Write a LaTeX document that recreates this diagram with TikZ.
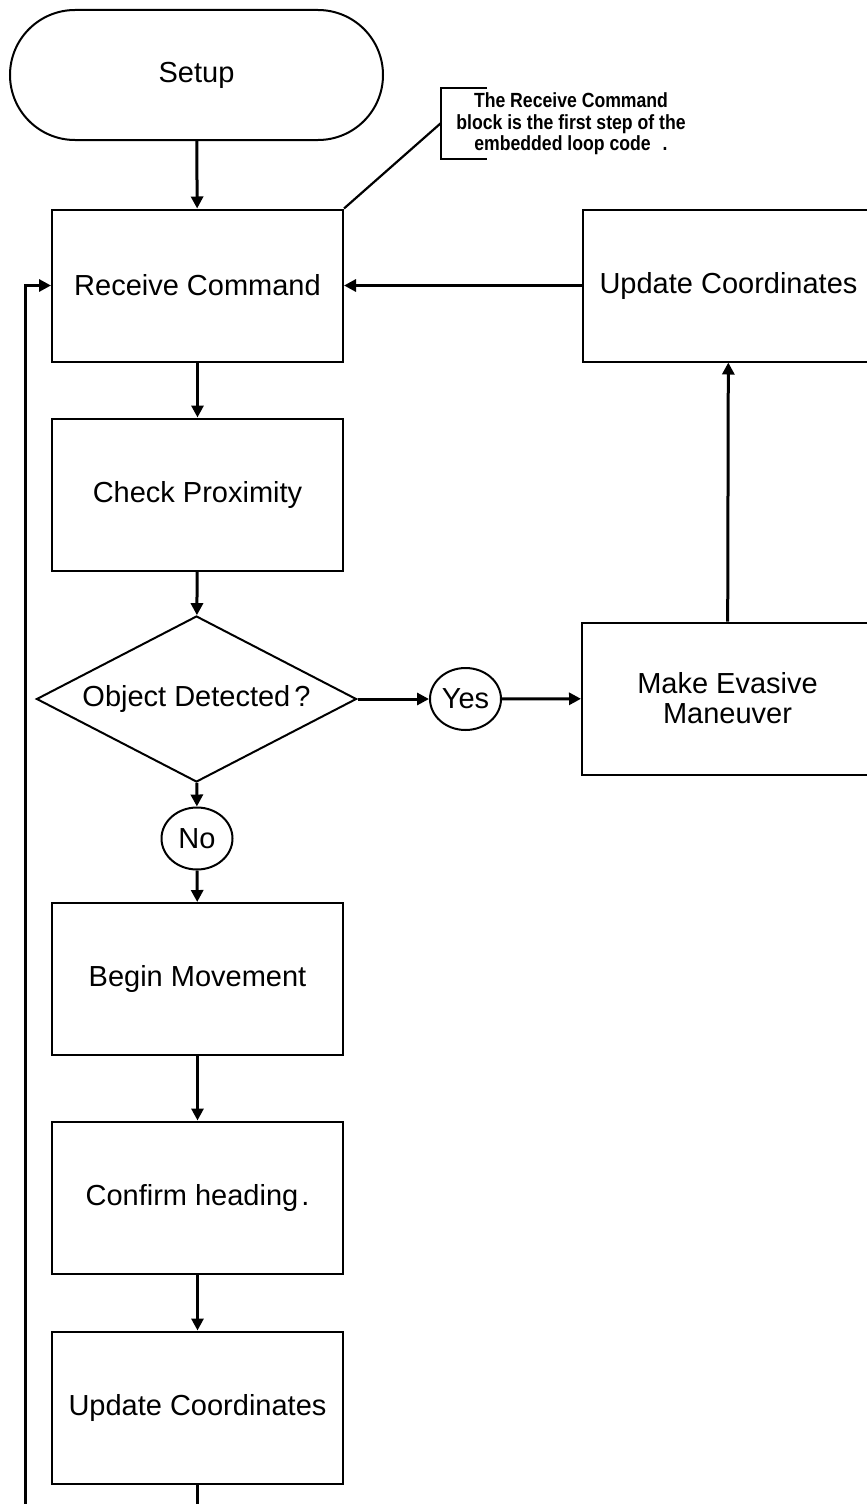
\documentclass[tikz,border=0pt]{standalone}
\usepackage{fontspec}
\setmainfont{Liberation Sans}
\newfontfamily\notefont[FakeStretch=0.86]{Liberation Sans}
\usetikzlibrary{shapes.geometric,arrows.meta}

\tikzset{
  every node/.style={inner sep=0pt, text=black},
  label font/.style={font=\fontsize{29}{30}\selectfont},
  procbox/.style={draw, line width=2pt, minimum width=291pt, minimum height=152pt, label font, align=center},
  terminal/.style={draw, line width=2pt, rounded corners=65pt, minimum width=373pt, minimum height=130pt, label font},
  decision/.style={draw, line width=2pt, diamond, aspect=1.93, minimum width=320pt, minimum height=166pt, label font},
  answer/.style={draw, line width=2pt, ellipse, minimum width=71pt, minimum height=62pt, label font},
  flow/.style={line width=3pt, -{Triangle[length=12pt,width=12pt]}},
  note/.style={font=\notefont\bfseries\fontsize{20.5}{21.5}\selectfont, align=center}
}

\begin{document}
\begin{tikzpicture}[x=1pt,y=-1pt]
  \useasboundingbox (0,0) rectangle (867,1504);
  \fill[white] (0,0) rectangle (867,1504);
  \clip (0,0) rectangle (867,1504);

  % main column
  \node[terminal] (setup)   at (196.5,75)   {Setup};
  \node[procbox]  (recv)    at (197.5,285.5) {Receive Command};
  \node[procbox]  (prox)    at (197.5,494.5) {Check Proximity};
  \node[decision] (detect)  at (196.5,699)   {Object Detected\hspace{4pt}?};
  \node[answer]   (no)      at (197,838.5)   {No};
  \node[procbox]  (move)    at (197.5,979)   {Begin Movement};
  \node[procbox]  (heading) at (197.5,1197.5) {Confirm heading\hspace{3pt}.};
  \node[procbox]  (update)  at (197.5,1407.5) {Update Coordinates};

  % evasive branch
  \node[answer]   (yes)     at (465.5,699)   {Yes};
  \node[procbox]  (evade)   at (727.5,698.5) {Make Evasive\\Maneuver};
  \node[procbox]  (reupdate) at (728.5,285.5) {Update Coordinates};

  % annotation
  \node[note] (annot) at (571,124) {The Receive Command\\block is the first step of the\\embedded loop code\hspace{12pt}.};
  \coordinate (brtop) at (487,88);
  \coordinate (brbot) at (487,159);
  \coordinate (brmid) at (441,123);
  \draw[line width=1.6pt] (brtop) -- (441,88) -- (441,159) -- (brbot);
  \draw[line width=2.2pt] (recv.north east) -- (brmid);

  % connectors
  \draw[flow] (setup) -- (recv);
  \draw[flow] (recv) -- (prox);
  \draw[flow] (prox) -- (detect);
  \draw[flow] (detect) -- (no);
  \draw[flow] (no) -- (move);
  \draw[flow] (move) -- (heading);
  \draw[flow] (heading) -- (update);
  \draw[flow] (detect) -- (yes);
  \draw[flow] (yes) -- (evade);
  \draw[flow] (evade) -- (reupdate);
  \draw[flow] (reupdate) -- (recv);

  % loop back to the start of the embedded loop
  \coordinate (loopturn) at (25,1530);
  \draw[flow] (update.south) |- (loopturn) |- (recv.west);
\end{tikzpicture}
\end{document}
